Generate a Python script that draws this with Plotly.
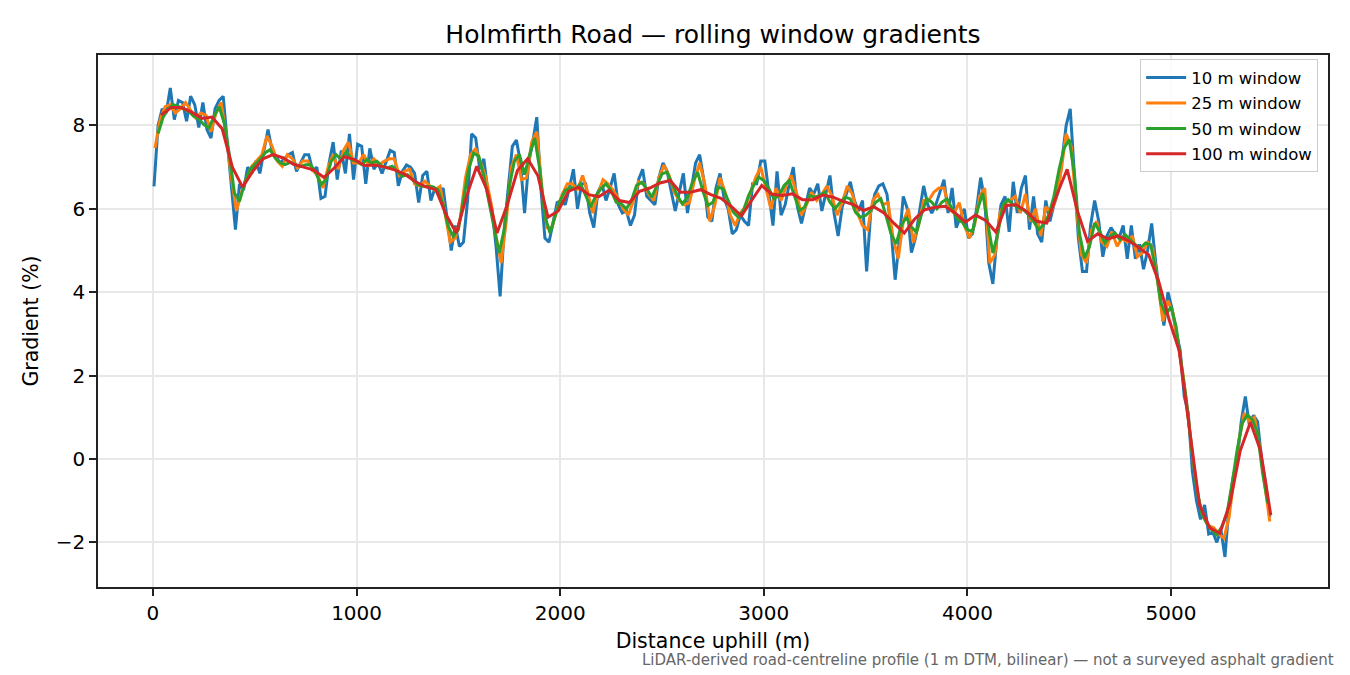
import numpy as np
import plotly.graph_objects as go

# distance grids: first sample (m) and spacing (m) of each rolling-window series
W10_START, W10_STEP = 5, 20
W25_START, W25_STEP = 10, 25
W50_START, W50_STEP = 25, 25
W100_START, W100_STEP = 40, 50

# gradients (%), 200 m per row
grad_10m = [
    6.54, 8.0, 8.4, 8.3, 8.9, 8.14, 8.6, 8.55, 8.1, 8.7,
    8.5, 7.95, 8.55, 7.9, 7.7, 8.4, 8.6, 8.7, 7.6, 6.6,
    5.5, 6.6, 6.45, 7.0, 6.85, 7.15, 6.85, 7.4, 7.9, 7.4,
    7.25, 7.1, 7.2, 7.3, 7.35, 6.9, 7.1, 7.3, 7.3, 6.9,
    7.0, 6.25, 6.3, 7.1, 7.6, 6.7, 7.4, 6.85, 7.8, 6.7,
    7.55, 7.5, 6.6, 7.45, 6.95, 7.1, 6.85, 7.15, 7.4, 7.35,
    6.55, 6.9, 7.05, 7.0, 6.85, 6.15, 6.8, 6.9, 6.2, 6.5,
    6.3, 6.5, 5.7, 5.0, 5.6, 5.1, 5.2, 6.2, 7.8, 7.7,
    6.95, 7.2, 6.4, 6.0, 5.1, 3.9, 5.5, 6.6, 7.5, 7.65,
    7.1, 5.9, 7.1, 7.6, 8.2, 6.5, 5.3, 5.2, 5.65, 6.15,
    6.2, 6.1, 6.5, 6.95, 6.0, 6.6, 6.6, 5.9, 5.55, 6.4,
    6.6, 6.2, 6.5, 6.85, 6.1, 5.9, 5.95, 5.6, 5.85, 6.7,
    6.95, 6.3, 6.2, 6.1, 6.75, 7.1, 6.9, 6.4, 5.95, 6.4,
    6.85, 5.9, 6.45, 7.1, 7.3, 6.7, 5.8, 5.7, 6.5, 6.85,
    6.25, 6.0, 5.4, 5.5, 5.85, 5.7, 5.6, 6.6, 6.6, 7.15,
    7.15, 6.3, 5.6, 6.9, 5.85, 6.1, 6.6, 7.0, 6.05, 5.65,
    6.1, 6.5, 6.35, 6.6, 5.95, 6.35, 6.8, 5.9, 5.35, 6.05,
    6.35, 6.65, 6.2, 5.95, 6.2, 4.5, 5.9, 6.35, 6.55, 6.6,
    6.35, 5.5, 4.3, 5.2, 6.3, 6.0, 4.95, 5.3, 5.95, 6.55,
    6.1, 5.9, 6.1, 6.4, 6.7, 5.9, 6.5, 5.55, 5.8, 6.0,
    5.3, 5.4, 6.0, 6.75, 6.2, 4.7, 4.2, 5.3, 6.1, 6.3,
    5.45, 6.65, 5.9, 6.5, 6.8, 5.5, 6.3, 5.4, 5.2, 6.2,
    5.7, 6.1, 6.4, 7.2, 8.0, 8.4, 6.8, 5.3, 4.5, 4.5,
    5.6, 6.2, 5.7, 4.85, 5.35, 5.55, 5.4, 5.3, 5.6, 4.8,
    5.6, 4.8, 5.15, 4.55, 5.0, 5.65, 4.7, 3.9, 3.2, 4.0,
    3.6, 3.05, 2.6, 1.5, 1.1, -0.3, -1.0, -1.45, -1.1, -1.8,
    -1.75, -2.0, -1.7, -2.35, -1.1, -0.45, 0.0, 0.9, 1.5, 0.8,
    1.05, 0.9, 0.0, -0.6, -1.4,
]

# 250 m per row
grad_25m = [
    7.46, 8.14, 8.45, 8.5, 8.3, 8.4, 8.55, 8.35, 8.18, 8.3,
    8.25, 7.85, 8.3, 8.55, 7.75, 6.75, 5.95, 6.4, 6.75, 7.02,
    7.15, 7.3, 7.75, 7.5, 7.15, 7.02, 7.3, 7.2, 6.98, 7.15,
    7.15, 6.92, 6.8, 6.5, 7.0, 7.3, 6.95, 7.4, 7.6, 7.1,
    7.1, 7.3, 7.05, 7.2, 7.05, 7.14, 7.2, 7.2, 6.8, 6.9,
    6.95, 6.6, 6.55, 6.66, 6.55, 6.45, 6.54, 5.85, 5.2, 5.3,
    5.8, 6.75, 7.3, 7.45, 7.1, 6.75, 6.15, 5.35, 4.7, 5.7,
    7.0, 7.3, 6.7, 6.75, 7.6, 7.85, 6.5, 5.55, 5.55, 6.0,
    6.35, 6.6, 6.6, 6.45, 6.8, 6.4, 5.9, 6.35, 6.7, 6.6,
    6.45, 6.25, 6.0, 5.85, 6.2, 6.65, 6.6, 6.35, 6.2, 6.75,
    7.05, 6.8, 6.4, 6.2, 6.1, 6.15, 6.7, 7.1, 6.6, 5.7,
    6.1, 6.75, 6.4, 5.85, 5.6, 5.9, 6.05, 6.4, 6.75, 7.0,
    6.5, 6.0, 6.5, 6.2, 6.55, 6.8, 6.4, 5.85, 6.1, 6.4,
    6.2, 6.35, 6.55, 6.3, 5.85, 6.15, 6.55, 6.35, 5.9, 5.6,
    5.5, 6.2, 6.35, 6.1, 6.15, 5.3, 4.8, 5.7, 6.0, 5.2,
    5.6, 6.2, 6.2, 6.4, 6.5, 6.5, 6.0, 5.9, 6.15, 5.6,
    5.3, 5.6, 6.3, 6.5, 4.7, 4.9, 5.9, 6.15, 6.2, 6.3,
    5.9, 6.35, 5.7, 6.0, 5.35, 6.05, 5.9, 6.25, 6.9, 7.8,
    7.5, 6.0, 4.9, 4.7, 5.5, 5.7, 5.2, 5.1, 5.45, 5.1,
    5.3, 5.2, 5.35, 4.85, 4.95, 5.2, 5.05, 4.25, 3.3, 3.8,
    3.5, 2.75, 2.0, 1.0, -0.1, -0.95, -1.4, -1.6, -1.65, -1.8,
    -1.9, -1.4, -0.5, 0.5, 1.1, 0.9, 1.0, 0.3, -0.6, -1.5,
]

# 250 m per row
grad_50m = [
    7.8, 8.2, 8.4, 8.5, 8.46, 8.4, 8.34, 8.22, 8.16, 8.02,
    7.94, 8.22, 8.45, 8.06, 7.3, 6.38, 6.18, 6.62, 6.94, 7.06,
    7.18, 7.34, 7.42, 7.22, 7.1, 7.06, 7.12, 7.06, 7.02, 7.06,
    7.06, 6.86, 6.58, 6.7, 7.14, 7.3, 7.18, 7.38, 7.18, 7.14,
    7.06, 7.18, 7.1, 7.14, 7.02, 6.98, 7.02, 6.9, 6.78, 6.82,
    6.7, 6.58, 6.54, 6.54, 6.53, 6.46, 6.1, 5.58, 5.34, 5.5,
    6.22, 6.94, 7.34, 7.26, 6.78, 6.14, 5.5, 4.94, 5.5, 6.54,
    7.14, 7.3, 6.82, 7.3, 7.7, 6.94, 5.82, 5.42, 5.82, 6.2,
    6.44, 6.52, 6.48, 6.6, 6.32, 6.04, 6.32, 6.48, 6.6, 6.44,
    6.16, 6.12, 6.0, 6.2, 6.56, 6.64, 6.48, 6.28, 6.56, 6.84,
    6.88, 6.6, 6.32, 6.12, 6.28, 6.64, 6.88, 6.44, 6.08, 6.16,
    6.52, 6.48, 6.2, 5.92, 5.8, 5.96, 6.32, 6.56, 6.76, 6.68,
    6.48, 6.24, 6.32, 6.56, 6.68, 6.32, 5.96, 6.04, 6.32, 6.28,
    6.32, 6.4, 6.16, 6.0, 6.16, 6.28, 6.24, 5.92, 5.8, 5.84,
    5.96, 6.16, 6.24, 5.84, 5.4, 5.16, 5.6, 5.8, 5.56, 5.44,
    5.88, 6.24, 6.16, 6.0, 6.16, 6.24, 6.0, 5.76, 5.68, 5.5,
    5.46, 5.98, 6.38, 5.66, 4.94, 5.42, 6.1, 6.22, 6.1, 6.02,
    5.98, 5.86, 5.7, 5.5, 5.62, 5.86, 6.3, 6.94, 7.46, 7.66,
    6.86, 5.42, 4.82, 5.1, 5.66, 5.46, 5.18, 5.34, 5.42, 5.26,
    5.38, 5.26, 5.14, 5.06, 5.18, 5.14, 4.54, 3.74, 3.46, 3.66,
    3.18, 2.3, 1.42, 0.3, -0.66, -1.3, -1.54, -1.7, -1.82, -1.62,
    -1.3, -0.58, 0.22, 0.86, 1.06, 0.94, 0.62, -0.34, -1.06,
]

# 1000 m per row
grad_100m = [
    8.25, 8.43, 8.43, 8.32, 8.17, 8.2, 7.92, 7.0, 6.52, 6.9,
    7.2, 7.3, 7.22, 7.07, 7.0, 6.93, 6.75, 6.98, 7.25, 7.18,
    7.04, 7.05, 7.0, 6.93, 6.82, 6.65, 6.53, 6.46, 5.85, 5.42,
    6.3, 7.02, 6.46, 5.42, 6.1, 6.92, 7.2, 6.8, 5.8, 5.95,
    6.42, 6.52, 6.34, 6.29, 6.45, 6.2, 6.15, 6.42, 6.5, 6.62,
    6.68, 6.4, 6.4, 6.46, 6.34, 6.25, 6.06, 5.83, 6.2, 6.56,
    6.35, 6.32, 6.36, 6.22, 6.22, 6.33, 6.28, 6.18, 6.1, 5.96,
    6.05, 5.9, 5.65, 5.42, 5.75, 5.98, 6.04, 6.06, 5.9, 5.68,
    5.85, 5.72, 5.44, 6.08, 6.1, 5.94, 5.7, 5.66, 6.35, 6.95,
    5.95, 5.22, 5.4, 5.28, 5.35, 5.24, 5.08, 4.9, 4.25, 3.35,
    2.6, 0.7, -1.1, -1.65, -1.78, -1.05, 0.2, 0.88, 0.2, -1.35,
]

series = [
    ("10 m window", grad_10m, W10_START, W10_STEP, "#1f77b4"),
    ("25 m window", grad_25m, W25_START, W25_STEP, "#ff7f0e"),
    ("50 m window", grad_50m, W50_START, W50_STEP, "#2ca02c"),
    ("100 m window", grad_100m, W100_START, W100_STEP, "#d62728"),
]

fig = go.Figure()
for name, vals, start, step, color in series:
    dist = start + step * np.arange(len(vals))
    fig.add_trace(go.Scatter(x=dist, y=vals, mode="lines", name=name,
                             legendgroup=name,
                             line=dict(color=color, width=3)))

axis_style = dict(showline=True, linecolor="#222222", linewidth=1.5, mirror=True,
                  ticks="outside", ticklen=7, tickwidth=1.5, tickcolor="#222222",
                  showgrid=True, gridcolor="#e8e8e8", gridwidth=1.5,
                  zeroline=False, tickfont=dict(size=20, color="black"))

# the page body adds an 8 px offset, margins below account for it
fig.update_layout(
    width=1350, height=675,
    margin=dict(l=90, r=30, t=47, b=96),
    paper_bgcolor="white", plot_bgcolor="white",
    font=dict(family="DejaVu Sans", color="black"),
    title=dict(text="Holmfirth Road — rolling window gradients",
               xref="paper", x=0.5, xanchor="center", y=0.9615, yanchor="middle",
               font=dict(size=25)),
    legend=dict(x=0.992, y=0.992, xanchor="right", yanchor="top",
                bgcolor="rgba(255,255,255,0.85)", bordercolor="#cccccc",
                borderwidth=1, font=dict(size=16.5), tracegroupgap=1,
                itemwidth=40),
    showlegend=True,
)
fig.update_xaxes(range=[-270, 5771], tickvals=[0, 1000, 2000, 3000, 4000, 5000],
                 title=dict(text="Distance uphill (m)", font=dict(size=20.5), standoff=10),
                 **axis_style)
fig.update_yaxes(range=[-3.07, 9.69], tickvals=[-2, 0, 2, 4, 6, 8],
                 title=dict(text="Gradient (%)", font=dict(size=20.5), standoff=12),
                 **axis_style)

fig.add_annotation(
    text="LiDAR-derived road-centreline profile (1 m DTM, bilinear) — not a surveyed asphalt gradient",
    xref="paper", yref="paper", x=1.0065, y=-0.137, xanchor="right", yanchor="middle",
    showarrow=False, font=dict(size=15, color="#666666"))

fig.write_html("out.html")
